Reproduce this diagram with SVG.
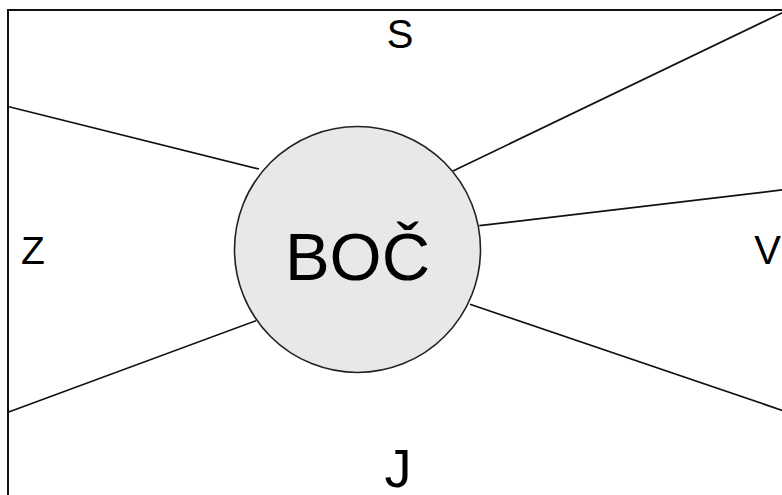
<svg xmlns="http://www.w3.org/2000/svg" width="782" height="495" viewBox="0 0 782 495">
<style>
.t{font-family:"Liberation Sans",Arial,sans-serif;fill:#000;text-anchor:middle}
.c{stroke:#111;stroke-width:1.7;fill:none}
</style>
<rect width="782" height="495" fill="#fff"/>
<rect x="8" y="10" width="800" height="520" fill="none" stroke="#111" stroke-width="2"/>
<g id="connectors">
<line class="c" x1="8" y1="106.5" x2="259" y2="169"/>
<line class="c" x1="8" y1="412.3" x2="256" y2="320.7"/>
<line class="c" x1="790" y1="9" x2="453" y2="171"/>
<line class="c" x1="790" y1="189" x2="479.3" y2="225.7"/>
<line class="c" x1="790" y1="413" x2="470" y2="304.3"/>
</g>
<g id="center">
<circle cx="357.5" cy="249.5" r="123" fill="#e8e8e8" stroke="#222" stroke-width="1.6"/>
<text class="t" x="357.5" y="280" font-size="67">BOČ</text>
</g>
<g id="s"><text class="t" x="400" y="47.5" font-size="40">S</text></g>
<g id="z"><text class="t" x="33" y="264" font-size="39">Z</text></g>
<g id="v"><text class="t" x="767.5" y="264" font-size="40">V</text></g>
<g id="j"><text class="t" x="398" y="487" font-size="54">J</text></g>
</svg>
